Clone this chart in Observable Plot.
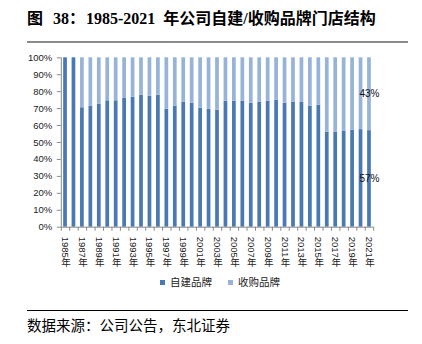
<!DOCTYPE html>
<html><head><meta charset="utf-8">
<script src="https://cdn.jsdelivr.net/npm/d3@7"></script>
<script src="https://cdn.jsdelivr.net/npm/@observablehq/plot@0.6"></script>
<style>
body{margin:0;background:#fff;}
#wrap{position:relative;width:422px;height:344px;overflow:hidden;font-family:"Liberation Sans","Noto Sans CJK SC",sans-serif;}
#title{position:absolute;left:27px;top:9px;font-family:"Liberation Serif","Noto Sans CJK SC",serif;font-weight:bold;font-size:16px;line-height:20px;color:#000;white-space:nowrap;}
#title span{display:inline-block;}
#trule{position:absolute;left:27px;top:41px;width:381px;height:2px;background:#8c8c8c;}
#chart{position:absolute;left:0;top:45px;}
#legend{position:absolute;left:0;width:422px;top:275px;font-size:10.5px;line-height:14px;color:#222;font-family:"Noto Sans CJK SC",sans-serif;}
.li{position:absolute;top:0;white-space:nowrap;}
.sw{display:inline-block;width:5px;height:5px;margin-right:5px;vertical-align:1px;}
#brule{position:absolute;left:27px;top:310px;width:381px;height:1px;background:#000;}
#source{position:absolute;left:27px;top:316px;font-size:14.5px;line-height:18px;color:#000;font-family:"Noto Sans CJK SC",sans-serif;white-space:nowrap;}
text.vert{writing-mode:vertical-rl;text-orientation:mixed;}
</style></head>
<body>
<div id="wrap">
  <div id="title"><span>图</span><span style="margin-left:10px">38：</span><span style="margin-left:1px">1985-2021</span><span style="margin-left:8px">年公司自建/收购品牌门店结构</span></div>
  <div id="trule"></div>
  <div id="chart"></div>
  <div id="legend"></div>
  <div id="brule"></div>
  <div id="source">数据来源：公司公告，东北证券</div>
</div>
<script>
const years = ["1985","1986","1987","1988","1989","1990","1991","1992","1993","1994","1995","1996","1997","1998","1999","2000","2001","2002","2003","2004","2005","2006","2007","2008","2009","2010","2011","2012","2013","2014","2015","2016","2017","2018","2019","2020","2021"];
const tickYears = ["1985","1987","1989","1991","1993","1995","1997","1999","2001","2003","2005","2007","2009","2011","2013","2015","2017","2019","2021"];
const series = ["自建品牌","收购品牌"];
const selfBuilt = [100,100,70.5,71.4,72.6,74.6,74.6,76.0,76.7,77.9,77.3,77.9,69.6,71.4,73.8,73.2,70.2,69.6,69.0,74.4,74.4,74.4,73.2,73.8,74.4,75.0,73.2,73.8,73.8,71.4,72.0,56.0,56.0,56.8,57.2,57.6,57.0];
const acquired  = [0,0,29.5,28.6,27.4,25.4,25.4,24.0,23.3,22.1,22.7,22.1,30.4,28.6,26.2,26.8,29.8,30.4,31.0,25.6,25.6,25.6,26.8,26.2,25.6,25.0,26.8,26.2,26.2,28.6,28.0,44.0,44.0,43.2,42.8,42.4,43.0];
const yTicks = [0,10,20,30,40,50,60,70,80,90,100];
const labels = [{year:"2021", y:78.5, text:"43%"},{year:"2021", y:28.5, text:"57%"}];
const colors = ["#4a78b2","#97b3d8"];

const data = years.flatMap((y,i)=>[
  {year:y, type:series[0], v:selfBuilt[i]},
  {year:y, type:series[1], v:acquired[i]}
]);

const W = 422, H = 230, ML = 60.8, MR = 48.8;
const step = (W - ML - MR) / years.length;

const plot = Plot.plot({
  width: W, height: H,
  marginLeft: ML, marginRight: MR, marginTop: 12.3, marginBottom: 48.3,
  style: {fontFamily: "'Liberation Sans','Noto Sans CJK SC',sans-serif", fontSize: "9.5px", color: "#222", background: "#fff"},
  x: {domain: years, paddingInner: 0.56, paddingOuter: 0.28, round: false, axis: null},
  y: {domain: [0,100], axis: null},
  color: {domain: series, range: colors},
  marks: [
    Plot.barY(data, {x:"year", y:"v", fill:"type", order: series}),
    Plot.ruleY([0], {stroke:"#8a8a8a"}),
    Plot.ruleX([years[0]], {dx: -step/2, y1: 0, y2: 100, stroke:"#8a8a8a"}),
    Plot.ruleX(years, {dx: -step/2, y1: 0, y2: -2.4, stroke:"#8a8a8a"}),
    Plot.ruleX([years[years.length-1]], {dx: step/2, y1: 0, y2: -2.4, stroke:"#8a8a8a"}),
    Plot.axisY({ticks: yTicks, tickFormat: d => d + "%", tickSize: 4, tickPadding: 5, stroke: "#8a8a8a", fill: "#222", fontSize: 9.5}),
    Plot.text(tickYears, {x: d => d, y: 0, text: d => d + "年", dy: 6.5, textAnchor: "start", fill: "#222", fontSize: 9.5}),
    Plot.text(labels, {x: "year", y: "y", text: "text", fill: "#111", fontSize: 10})
  ]
});

d3.select(plot).selectAll("text")
  .filter(function(){ return this.textContent.endsWith("年"); })
  .attr("dy", null)
  .attr("writing-mode", "vertical-rl")
  .classed("vert", true);

document.getElementById("chart").appendChild(plot);

const leg = document.getElementById("legend");
const pos = [160, 228];
series.forEach((s,i)=>{
  const d = document.createElement("div");
  d.className = "li";
  d.style.left = pos[i] + "px";
  d.innerHTML = `<span class="sw" style="background:${colors[i]}"></span>${s}`;
  leg.appendChild(d);
});
</script>
</body></html>
